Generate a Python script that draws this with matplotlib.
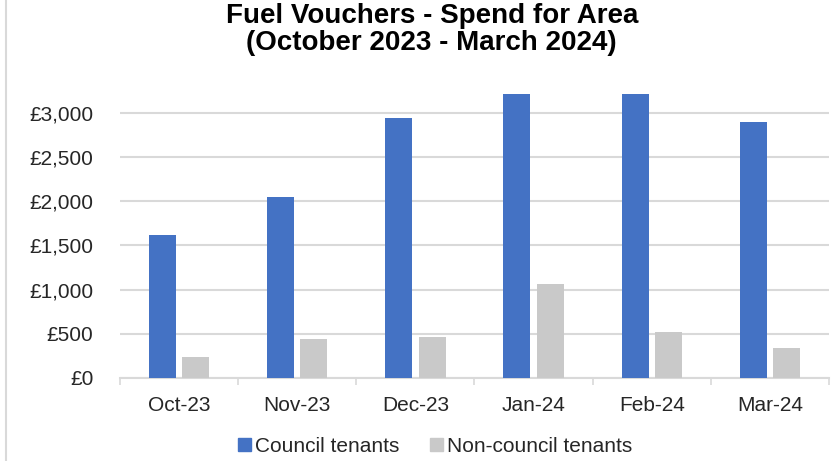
import matplotlib
matplotlib.use('Agg')
import matplotlib.pyplot as plt
import matplotlib.patches as mpatches
from matplotlib.lines import Line2D
from matplotlib.ticker import FuncFormatter, MultipleLocator
import numpy as np

plt.rcParams['font.family'] = ['Liberation Sans', 'DejaVu Sans']

months = ['Oct-23', 'Nov-23', 'Dec-23', 'Jan-24', 'Feb-24', 'Mar-24']
council = [1620, 2055, 2945, 3220, 3220, 2900]
non_council = [230, 435, 465, 1065, 515, 335]

blue = '#4472C4'
grey = '#C9C9C9'
grid_col = '#D9D9D9'

fig = plt.figure(figsize=(8.32, 4.61), dpi=100)
ax = fig.add_axes([0.1442, 0.1807, 0.8522, 0.6147])

x = np.arange(len(months))
w = 0.228
off = 0.141
ax.bar(x - off, council, width=w, color=blue, zorder=3, label='Council tenants')
ax.bar(x + off, non_council, width=w, color=grey, zorder=3, label='Non-council tenants')

ax.set_xlim(-0.5, len(months) - 0.5)
ax.set_ylim(0, 3215)
ax.yaxis.set_major_locator(MultipleLocator(500))
ax.yaxis.set_major_formatter(FuncFormatter(lambda v, p: f'£{v:,.0f}'))
ax.grid(axis='y', color=grid_col, linewidth=1.5, zorder=0)

ax.set_xticks(x)
ax.set_xticklabels(months)
ax.set_xticks(np.arange(-0.5, len(months)), minor=True)
ax.tick_params(axis='x', which='major', length=0, pad=13, labelsize=15, colors='#262626')
ax.tick_params(axis='x', which='minor', length=5, width=1.2, color=grid_col)
ax.tick_params(axis='y', length=0, pad=19, labelsize=15, colors='#262626')

for s in ['top', 'right', 'left']:
    ax.spines[s].set_visible(False)
ax.spines['bottom'].set_color(grid_col)
ax.spines['bottom'].set_linewidth(1.5)

fig.text(0.519, 0.935, 'Fuel Vouchers - Spend for Area\n(October 2023 - March 2024)',
         ha='center', va='center', fontsize=20, fontweight='bold', linespacing=1.05)

handles = [mpatches.Patch(color=blue, label='Council tenants'),
           mpatches.Patch(color=grey, label='Non-council tenants')]
fig.legend(handles=handles, loc='center', bbox_to_anchor=(0.523, 0.0325), ncol=2,
           frameon=False, fontsize=15, handlelength=0.6, handleheight=0.6,
           handletextpad=0.2, columnspacing=1.5, labelcolor='#262626')

# chart border on the left edge
fig.add_artist(Line2D([5.5 / 832, 5.5 / 832], [0, 1], transform=fig.transFigure,
                      color='#D9D9D9', linewidth=1.5))

fig.savefig('out.png', dpi=100, facecolor='white')
